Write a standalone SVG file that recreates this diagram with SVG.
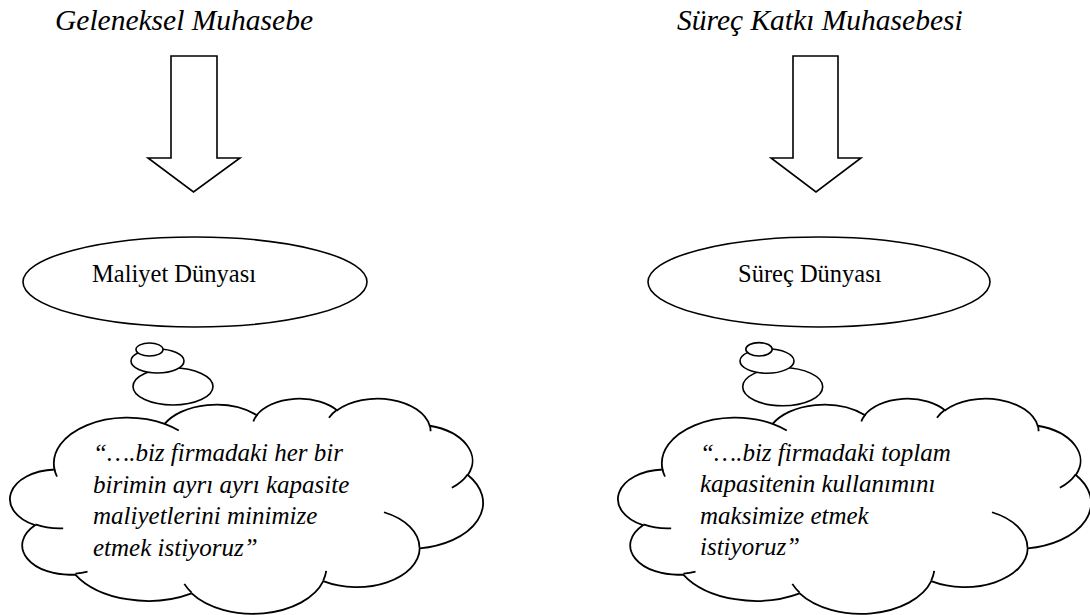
<svg xmlns="http://www.w3.org/2000/svg" width="1090" height="615" viewBox="0 0 1090 615">
  <defs>
    <style>
      .shape { fill: #ffffff; stroke: #000000; stroke-width: 1.6; }
      .cloud { fill: #ffffff; stroke: #000000; stroke-width: 1.8; }
      .stub { fill: none; stroke: #000000; stroke-width: 1.8; }
      text { font-family: "Liberation Serif", "DejaVu Serif", serif; fill: #000000; }
      .title { font-style: italic; font-size: 29.5px; }
      .label { font-size: 24.5px; }
      .quote { font-style: italic; font-size: 25px; }
    </style>
  </defs>

  <rect width="1090" height="615" fill="#ffffff"/>

  <!-- left column: traditional accounting -->
  <g id="title-left">
    <text class="title" x="55" y="29.5">Geleneksel Muhasebe</text>
  </g>
  <g id="arrow-left">
    <polygon class="shape" points="171,56 217,56 217,158 240,158 193.5,192 148,158 171,158"/>
  </g>
  <g id="ellipse-left">
    <ellipse class="shape" cx="195" cy="282" rx="172" ry="45"/>
    <text class="label" x="92" y="282">Maliyet Dünyası</text>
  </g>
  <g id="cloud-left">
    <!-- cloud outline and bump creases, drawn in a 43200-unit box -->
    <g transform="translate(12,398) scale(0.0109,0.004977)">
      <path class="cloud" vector-effect="non-scaling-stroke" d="M 3900 14370 A 6753 9190 0 0 1 14005 5202 A 5333 7267 0 0 1 22455 3431 A 4365 5945 0 0 1 29834 2481 A 4857 6595 0 0 1 38319 5576 A 5333 7273 0 0 1 41820 15459 A 6775 9220 0 0 1 37404 30199 A 5785 7867 0 0 1 28556 36810 A 6752 9215 0 0 1 16481 39264 A 7720 10543 0 0 1 5804 35470 A 4360 5918 0 0 1 2111 25551 A 4345 5945 0 0 1 3900 14370 Z"/>
      <path class="stub" vector-effect="non-scaling-stroke" d="M 4693 26177 A 4345 5945 0 0 1 2160 25380 M 6928 34899 A 4360 5918 0 0 1 5820 35281 M 16478 39090 A 6752 9215 0 0 1 15809 37348 M 28827 34751 A 6752 9215 0 0 1 28561 36659 M 34129 22954 A 5785 7867 0 0 1 37381 30090 M 41798 15354 A 5333 7273 0 0 1 40350 18030 M 38324 5426 A 4857 6595 0 0 1 38400 6690 M 29078 3952 A 4857 6595 0 0 1 29819 2341 M 22141 4720 A 4365 5945 0 0 1 22500 3331 M 14000 5192 A 6753 9190 0 0 1 15301 6542 M 4127 15789 A 6753 9190 0 0 1 3900 14371"/>
    </g>
    <ellipse class="shape" cx="173" cy="386.5" rx="40" ry="18.5"/>
    <ellipse class="shape" cx="157.5" cy="361" rx="26.5" ry="12"/>
    <ellipse class="shape" cx="149.5" cy="349.5" rx="13.5" ry="6.5"/>
    <text class="quote" x="93" y="461">“….biz firmadaki her bir</text>
    <text class="quote" x="93" y="492.5">birimin ayrı ayrı kapasite</text>
    <text class="quote" x="93" y="524">maliyetlerini minimize</text>
    <text class="quote" x="93" y="555.5">etmek istiyoruz”</text>
  </g>

  <!-- right column: process contribution accounting -->
  <g id="title-right">
    <text class="title" x="677" y="29.5">Süreç Katkı Muhasebesi</text>
  </g>
  <g id="arrow-right">
    <polygon class="shape" points="793,56 838,56 838,158 861,158 816,192 771,158 793,158"/>
  </g>
  <g id="ellipse-right">
    <ellipse class="shape" cx="819" cy="282" rx="171" ry="45"/>
    <text class="label" x="738" y="282">Süreç Dünyası</text>
  </g>
  <g id="cloud-right">
    <g transform="translate(620,398) scale(0.0109,0.004977)">
      <path class="cloud" vector-effect="non-scaling-stroke" d="M 3900 14370 A 6753 9190 0 0 1 14005 5202 A 5333 7267 0 0 1 22455 3431 A 4365 5945 0 0 1 29834 2481 A 4857 6595 0 0 1 38319 5576 A 5333 7273 0 0 1 41820 15459 A 6775 9220 0 0 1 37404 30199 A 5785 7867 0 0 1 28556 36810 A 6752 9215 0 0 1 16481 39264 A 7720 10543 0 0 1 5804 35470 A 4360 5918 0 0 1 2111 25551 A 4345 5945 0 0 1 3900 14370 Z"/>
      <path class="stub" vector-effect="non-scaling-stroke" d="M 4693 26177 A 4345 5945 0 0 1 2160 25380 M 6928 34899 A 4360 5918 0 0 1 5820 35281 M 16478 39090 A 6752 9215 0 0 1 15809 37348 M 28827 34751 A 6752 9215 0 0 1 28561 36659 M 34129 22954 A 5785 7867 0 0 1 37381 30090 M 41798 15354 A 5333 7273 0 0 1 40350 18030 M 38324 5426 A 4857 6595 0 0 1 38400 6690 M 29078 3952 A 4857 6595 0 0 1 29819 2341 M 22141 4720 A 4365 5945 0 0 1 22500 3331 M 14000 5192 A 6753 9190 0 0 1 15301 6542 M 4127 15789 A 6753 9190 0 0 1 3900 14371"/>
    </g>
    <ellipse class="shape" cx="782.7" cy="386.8" rx="40" ry="19"/>
    <ellipse class="shape" cx="767" cy="361" rx="27" ry="12.2"/>
    <ellipse class="shape" cx="759" cy="349.3" rx="13.2" ry="6.7"/>
    <text class="quote" x="700" y="460.5">“….biz firmadaki toplam</text>
    <text class="quote" x="700" y="492">kapasitenin kullanımını</text>
    <text class="quote" x="700" y="523.5">maksimize etmek</text>
    <text class="quote" x="700" y="555">istiyoruz”</text>
  </g>

  <g id="connectors"/>
</svg>
